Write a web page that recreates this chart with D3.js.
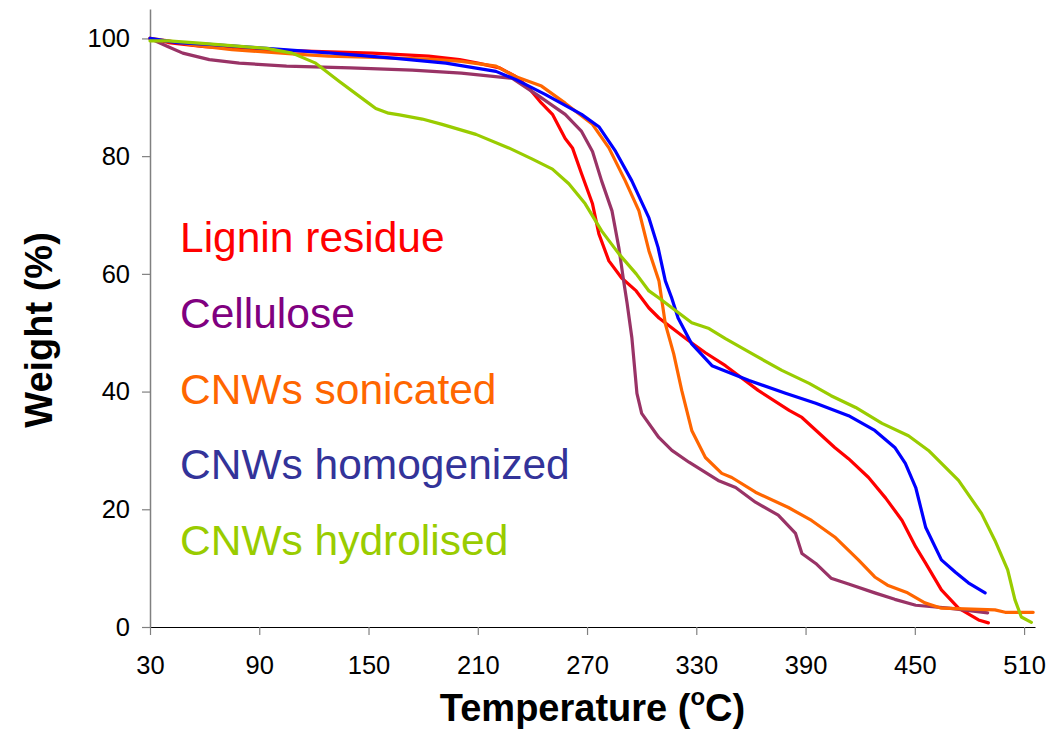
<!DOCTYPE html>
<html>
<head>
<meta charset="utf-8">
<title>TGA curves</title>
<script src="https://d3js.org/d3.v7.min.js"></script>
<style>
html, body { margin: 0; padding: 0; background: #fff; }
svg { display: block; font-family: Arial, "Liberation Sans", sans-serif; }
</style>
</head>
<body>
<div id="chart"></div>
<script>
// [temperature °C, weight %]
const lignin = [[30,100],[40,99.3],[60,98.6],[90,98.1],[120,97.8],[152,97.5],[183,97],[200,96.4],[210,95.8],[222,95],[231,93.5],[238,91.6],[245,89],[251,87.1],[258,83],[262,81.4],[267,77],[273,71.9],[276.5,66.8],[282,62.2],[289,59.3],[297,57.1],[304,54.2],[309.5,52.5],[326,48.6],[335,46.6],[346,44.4],[364,40.2],[381,36.8],[388,35.6],[406,30.5],[413.6,28.6],[424.6,25.4],[434,21.9],[443,18.1],[450.5,13.6],[456,10.8],[464.6,6.3],[474,3.2],[485,1.2],[490.4,0.7]];
const cellulose = [[30,100],[40,98.6],[48,97.5],[62.6,96.4],[79,95.8],[105,95.3],[140,95],[174,94.6],[201,94.1],[229,93.2],[243.6,90.2],[258,87.1],[267,84.2],[273,80.8],[278,75.8],[283.7,70.7],[287.5,64.4],[290,59],[292,55],[294.6,49.2],[297.4,39.7],[300,36.3],[309.4,32.2],[316.6,30],[326,28],[342,24.9],[351.6,23.7],[362.5,21.2],[375,19],[384.5,15.9],[388,12.5],[395.6,10.8],[404,8.3],[413.6,7.3],[428,5.8],[439,4.7],[450.5,3.7],[468.6,3.2],[490,2.4]];
const sonicated = [[30,100],[40,99.6],[55,98.8],[75,98.1],[112,97.3],[128,97],[149,96.8],[183,96.5],[201,96.1],[220,95.3],[231,93.5],[245,91.9],[258,89],[273,85.4],[282,81.4],[291,75.8],[298.5,70.7],[304,63.9],[309.5,58.8],[313,51.5],[317.6,46.4],[322,40.2],[327.5,33.4],[335,28.8],[344,26.1],[349.5,25.4],[362.5,22.9],[380.6,20.3],[393.3,18.1],[406,15.3],[419,11.4],[428,8.5],[435,7.1],[446,5.8],[455.5,4.1],[464.6,3.2],[494,2.9],[499.6,2.5],[515,2.5]];
const homogenized = [[30,100],[45,99.3],[62.6,99],[93.8,98.3],[130,97.5],[165,96.6],[192.5,95.8],[220,94.4],[231,93],[247,90.5],[267,87.1],[276.5,85],[285.7,80.8],[294.6,75.8],[304,69.5],[309,64.5],[313,58.8],[316.5,55.9],[320,52.5],[327.5,48.1],[338.6,44.4],[359,41.9],[379,39.7],[395.6,38],[413.6,35.9],[428,33.4],[439,30.5],[444.8,27.8],[450.5,23.7],[456,16.9],[464.6,11.4],[472.3,9.3],[479.4,7.5],[488.6,5.8]];
const hydrolised = [[30,99.6],[40,99.6],[57,99.2],[94,98.3],[108,97.5],[121,95.8],[134,92.7],[148.7,89.3],[154,88.1],[161,87.3],[167,87],[179.5,86.3],[190.4,85.4],[209,83.7],[227,81.4],[240,79.5],[251,77.8],[260,75.3],[269,71.9],[278,67.3],[287.5,63.4],[297,60],[304,57.1],[309.5,55.9],[327.5,51.7],[337,50.7],[346,49],[362.5,46.1],[377,43.6],[392,41.4],[404,39.3],[417.5,37.3],[432,34.6],[446.5,32.5],[457.5,30],[474,24.9],[486.6,19.3],[494,14.7],[501,9.7],[505,4.6],[508.5,1.7],[514,0.8]];

const seriesNames = ["Lignin residue", "Cellulose", "CNWs sonicated", "CNWs homogenized", "CNWs hydrolised"];
const seriesData = [lignin, cellulose, sonicated, homogenized, hydrolised];
const lineColors = ["#ff0000", "#993366", "#ff6600", "#0000ff", "#99cc00"];
const labelColors = ["#ff0000", "#800080", "#ff6600", "#333399", "#99cc00"];

const xTicks = [30, 90, 150, 210, 270, 330, 390, 450, 510];
const yTicks = [0, 20, 40, 60, 80, 100];

var width = 1051, height = 729;
var margin = {top: 9, right: 16, bottom: 102, left: 150};

var svg = d3.select("#chart").append("svg")
	.attr("width", width)
	.attr("height", height);

var x = d3.scaleLinear().domain([30, 516]).range([margin.left, width - margin.right]);
var y = d3.scaleLinear().domain([0, 105]).range([height - margin.bottom, margin.top]);

// axes
var gx = svg.append("g")
	.attr("transform", `translate(0,${y(0)})`)
	.call(d3.axisBottom(x).tickValues(xTicks).tickSize(8).tickPadding(21).tickSizeOuter(0));
gx.select(".domain").attr("stroke", "#000").attr("stroke-width", 1.2);
gx.selectAll(".tick line").attr("stroke", "#808080").attr("stroke-width", 1.2);
gx.selectAll(".tick text").attr("font-size", 25.5).attr("fill", "#000").attr("font-family", "Arial, 'Liberation Sans', sans-serif");

var gy = svg.append("g")
	.attr("transform", `translate(${x(30)},0)`)
	.call(d3.axisLeft(y).tickValues(yTicks).tickSize(8).tickPadding(12).tickSizeOuter(0));
gy.select(".domain").attr("stroke", "#808080").attr("stroke-width", 1.5);
gy.selectAll(".tick line").attr("stroke", "#808080").attr("stroke-width", 1.2);
gy.selectAll(".tick text").attr("font-size", 25.5).attr("fill", "#000").attr("font-family", "Arial, 'Liberation Sans', sans-serif");

// curves
var line = d3.line()
	.x(d => x(d[0]))
	.y(d => y(d[1]));

svg.append("g")
	.attr("fill", "none")
	.attr("stroke-width", 3.2)
	.attr("stroke-linejoin", "round")
	.attr("stroke-linecap", "round")
	.selectAll("path")
	.data(seriesData)
	.join("path")
	.attr("stroke", (d, i) => lineColors[i])
	.attr("d", line);

// labels inside the plot
svg.append("g")
	.attr("font-size", 42.5)
	.selectAll("text")
	.data(seriesNames)
	.join("text")
	.attr("x", 180)
	.attr("y", (d, i) => 252 + i * 75.8)
	.attr("fill", (d, i) => labelColors[i])
	.text(d => d);

// axis titles
var xt = svg.append("text")
	.attr("x", (x(30) + x(516)) / 2)
	.attr("y", 721)
	.attr("text-anchor", "middle")
	.attr("font-size", 38)
	.attr("font-weight", "bold")
	.attr("fill", "#000");
xt.append("tspan").text("Temperature (");
xt.append("tspan").attr("font-size", 24).attr("dy", -16).text("o");
xt.append("tspan").attr("dy", 16).text("C)");

svg.append("text")
	.attr("transform", `translate(52,${(y(0) + y(105)) / 2 + 12}) rotate(-90)`)
	.attr("text-anchor", "middle")
	.attr("font-size", 38)
	.attr("font-weight", "bold")
	.attr("fill", "#000")
	.text("Weight (%)");
</script>
</body>
</html>
